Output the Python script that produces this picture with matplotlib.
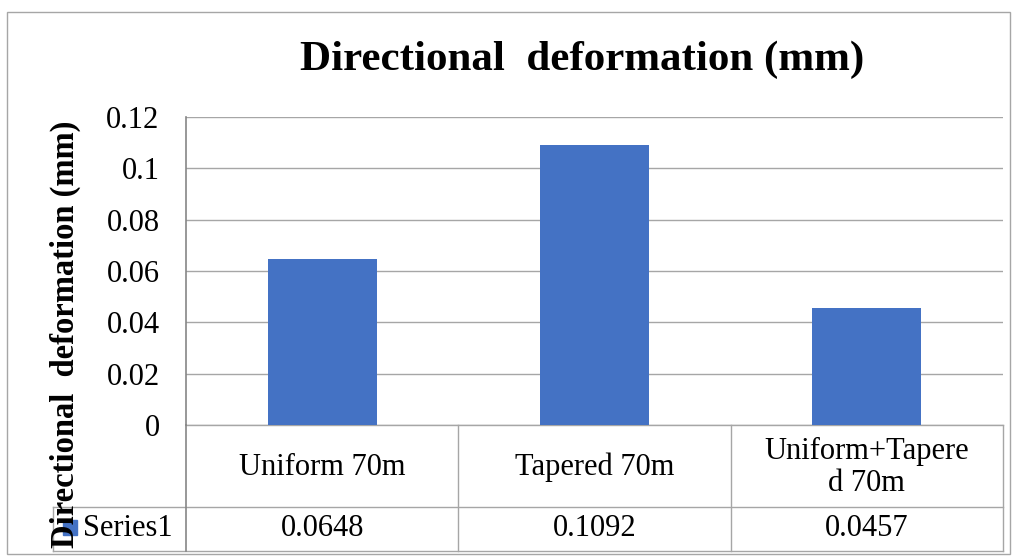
import matplotlib.pyplot as plt
import matplotlib.patches as mpatches
import matplotlib.transforms as mtransforms

# Datos
categorias = ['Uniform 70m', 'Tapered 70m', 'Uniform+Tapere\nd 70m']
valores = [0.0648, 0.1092, 0.0457]
valores_txt = ['0.0648', '0.1092', '0.0457']
serie = 'Series1'
yticks = [0, 0.02, 0.04, 0.06, 0.08, 0.1, 0.12]
ytick_labels = ['0', '0.02', '0.04', '0.06', '0.08', '0.1', '0.12']

plt.rcParams['font.family'] = ['Liberation Serif', 'DejaVu Serif']

W, H = 1018, 557
fig = plt.figure(figsize=(W / 100, H / 100), dpi=100)

# borde del grafico
fig.patches.append(mpatches.Rectangle((7 / W, 3 / H), 1003 / W, 542 / H,
                                      transform=fig.transFigure, fill=False,
                                      edgecolor='#A6A6A6', linewidth=1))

ax = fig.add_axes([186 / W, 132 / H, 817 / W, 308 / H])
x = range(len(categorias))
ax.bar(x, valores, width=0.4, color='#4472C4', zorder=3)
ax.set_xlim(-0.5, len(categorias) - 0.5)
ax.set_ylim(0, 0.12)
ax.set_yticks(yticks)
ax.set_yticklabels(ytick_labels, fontsize=22)
ax.set_xticks([])
ax.tick_params(axis='y', length=0, pad=19)
ax.yaxis.grid(True, color='#A6A6A6', linewidth=1)
for s in ['top', 'right', 'bottom']:
    ax.spines[s].set_visible(False)
ax.spines['left'].set_color('#868686')
ax.spines['left'].set_linewidth(1.2)

# tabla de datos
tr = mtransforms.blended_transform_factory(ax.transData, ax.transAxes)
r1 = -82 / 308
r2 = -126 / 308
xl = -0.5 - 133 / 272.3
n = len(categorias)
kw = dict(color='#A6A6A6', linewidth=1, transform=tr, clip_on=False)
ax.plot([-0.5, n - 0.5], [0, 0], **kw)
ax.plot([xl, n - 0.5], [r1, r1], **kw)
ax.plot([xl, n - 0.5], [r2, r2], **kw)
ax.plot([xl, xl], [r1, r2], **kw)
ax.plot([-0.5, -0.5], [0, r2], color='#868686', linewidth=1.2, transform=tr, clip_on=False)
for i in range(n):
    ax.plot([i + 0.5, i + 0.5], [0, r2], **kw)
    ax.text(i, r1 / 2 - 0.005, categorias[i], transform=tr, ha='center', va='center',
            fontsize=22, linespacing=1.15)
    ax.text(i, (r1 + r2) / 2, valores_txt[i], transform=tr, ha='center',
            va='center', fontsize=22)

ax.add_patch(mpatches.Rectangle((xl + 0.035, -0.357), 0.055, 0.049,
                                transform=tr, clip_on=False, color='#4472C4'))
ax.text(xl + 0.11, (r1 + r2) / 2, serie, transform=tr, ha='left', va='center',
        fontsize=22)

fig.text(582 / W, 1 - 60 / H, 'Directional  deformation (mm)', ha='center',
         va='center', fontsize=31, fontweight='bold')
fig.text(65 / W, 1 - 334 / H, 'Directional  deformation (mm)', ha='center',
         va='center', rotation=90, fontsize=23.5, fontweight='bold')

fig.savefig('out.png', dpi=100)
